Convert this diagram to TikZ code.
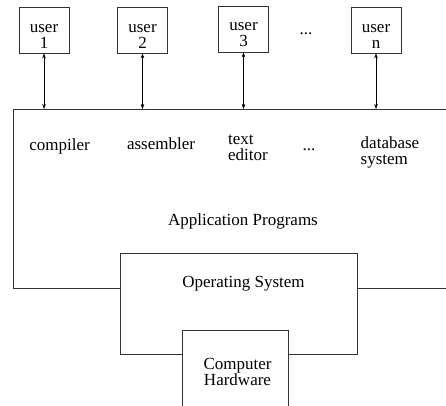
\documentclass[tikz,border=0pt]{standalone}
\usepackage{fontspec}
\setmainfont{Liberation Serif}
\usetikzlibrary{positioning,arrows.meta}

\tikzset{
  box/.style={draw=black!80,line width=0.8pt,fill=white,inner sep=0pt},
  userbox/.style={box,minimum width=50pt,minimum height=46pt,align=center,
    font=\fontsize{17}{16}\selectfont},
  lbl/.style={inner sep=0pt,align=left,font=\fontsize{17}{16}\selectfont},
}

\begin{document}
\begin{tikzpicture}[x=1pt,y=-1pt,>={Stealth[length=5pt,width=3.5pt]}]
	\useasboundingbox (0,0) rectangle (446,405);
	\clip (0,0) rectangle (446,405);

	% layers
	\node[box,minimum width=470pt,minimum height=179pt,anchor=north west] (app) at (13,109) {};
	\node[box,minimum width=237pt,minimum height=101pt,anchor=north west] (os) at (120,253) {};
	\node[box,minimum width=106pt,minimum height=90pt,anchor=north west] (hw) at (182,330) {};

	% users
	\node[userbox] (u1) at (44,30) {\rule{0pt}{20pt}user\\1};
	\node[userbox] (u2) at (142.5,30) {\rule{0pt}{20pt}user\\2};
	\node[userbox] (u3) at (243.5,29) {\rule{0pt}{20pt}user\\3};
	\node[lbl,anchor=base] (udots) at (306,34) {...};
	\node[userbox] (un) at (376,30) {\rule{0pt}{20pt}user\\n};

	\draw[<->] (u1) -- (u1 |- app.north);
	\draw[<->] (u2) -- (u2 |- app.north);
	\draw[<->] (u3) -- (u3 |- app.north);
	\draw[<->] (un) -- (un |- app.north);

	% programs
	\node[lbl,anchor=base] (comp) at (59.5,150) {compiler};
	\node[lbl,anchor=base] (asm) at (161,149) {assembler};
	\node[lbl] (edit) at (248,148) {text\\editor};
	\node[lbl,anchor=base] (pdots) at (309,150) {...};
	\node[lbl] (db) at (390,152) {database\\ system};

	\node[lbl,anchor=base] (apptext) at (243,225) {Application Programs};
	\node[lbl,anchor=base] (ostext) at (243.5,287) {Operating System};
	\node[lbl,align=center] (hwtext) at (237.5,372) {Computer\\Hardware};
\end{tikzpicture}
\end{document}
